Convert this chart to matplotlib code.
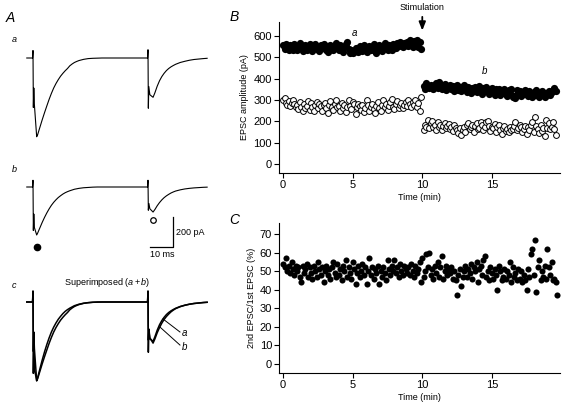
import matplotlib

matplotlib.use("Agg")

import matplotlib.pyplot as plt
import numpy as np

plt.rcParams["font.family"] = ["Liberation Sans", "DejaVu Sans"]
plt.rcParams["mathtext.fontset"] = "custom"
plt.rcParams["mathtext.it"] = "Liberation Sans:italic"
plt.rcParams["mathtext.rm"] = "Liberation Sans"

# --------------------------------------------------------------------------- #
# Data
# --------------------------------------------------------------------------- #

# Panel A sample traces: (time in ms after first stimulus, current in pA)
trace_a = [
    (-2.7, 0), (-0.2, 0), (0.0, 50), (0.15, -330), (0.35, -200), (0.6, -310),
    (1.6, -525), (2, -512), (3, -462), (4, -412), (5, -365), (6, -320),
    (7, -276), (8, -236), (9, -200), (10, -170), (11, -144), (12, -121),
    (13, -102), (14, -85), (15, -70), (16, -52), (17, -40), (18, -30),
    (19, -23), (20, -17), (22, -9), (24, -4), (26, -2), (28, -1), (30, 0),
    (49.8, 0), (50.0, 55), (50.15, -335), (50.35, -190), (50.8, -245),
    (52.2, -262), (53, -232), (54, -188), (55, -152), (56, -124), (57, -102),
    (58, -84), (59, -70), (60, -59), (61, -50), (62, -42), (63, -36),
    (64, -30), (65, -26), (66, -22), (68, -15), (70, -10), (72, -7),
    (74, -4), (75.7, -2),
]
trace_b = [
    (-2.7, 0), (-0.2, 0), (0.0, 45), (0.15, -290), (0.35, -180), (0.6, -270),
    (1.6, -320), (2, -308), (3, -272), (4, -236), (5, -203), (6, -173),
    (7, -146), (8, -122), (9, -102), (10, -85), (11, -70), (12, -58),
    (13, -47), (14, -38), (15, -31), (16, -25), (17, -20), (18, -15),
    (19, -12), (20, -9), (22, -5), (24, -3), (26, -1), (28, 0),
    (49.8, 0), (50.0, 45), (50.15, -155), (50.4, -110), (50.8, -145),
    (52.2, -167), (53, -150), (54, -125), (55, -104), (56, -86), (57, -71),
    (58, -59), (59, -49), (60, -40), (61, -33), (62, -27), (63, -23),
    (64, -19), (65, -16), (66, -13), (68, -9), (70, -6), (72, -4),
    (74, -2), (75.7, -1),
]

# Panel B: EPSC amplitudes (pA), one sweep every 6 s
sweep_min = 0.1
before_start, after_start = 0.0, 10.1
first_before = [
    555, 540, 560, 545, 532, 558, 547, 536, 562, 546,
    533, 554, 565, 541, 528, 550, 559, 535, 546, 563,
    545, 530, 551, 560, 537, 549, 529, 556, 543, 564,
    551, 536, 525, 546, 559, 540, 532, 551, 566, 545,
    534, 556, 544, 526, 548, 560, 572, 537, 522, 532,
    520, 529, 544, 535, 523, 552, 541, 528, 558, 536,
    526, 547, 554, 533, 543, 560, 530, 522, 548, 557,
    538, 528, 551, 565, 544, 532, 558, 548, 535, 562,
    552, 543, 565, 553, 570, 556, 547, 567, 558, 573,
    553, 580, 566, 549, 575, 560, 582, 548, 573, 540,
]
first_after = [
    365, 352, 378, 366, 355, 372, 360, 350, 369, 380,
    357, 385, 367, 351, 362, 376, 345, 361, 354, 370,
    350, 364, 340, 355, 368, 348, 360, 342, 356, 371,
    352, 338, 361, 347, 333, 358, 344, 362, 338, 351,
    366, 345, 330, 356, 340, 360, 347, 328, 343, 358,
    338, 325, 350, 336, 353, 322, 343, 334, 352, 330,
    320, 345, 332, 351, 312, 318, 310, 348, 330, 342,
    320, 336, 328, 347, 332, 318, 341, 326, 315, 338,
    324, 345, 330, 316, 328, 341, 322, 312, 333, 328,
    344, 325, 337, 348, 355, 343,
]
second_before = [
    300, 310, 285, 278, 295, 270, 288, 300, 283, 265,
    275, 258, 290, 268, 248, 280, 262, 272, 295, 255,
    285, 268, 250, 278, 292, 260, 283, 270, 248, 275,
    288, 262, 240, 278, 293, 268, 255, 282, 300, 265,
    272, 250, 287, 262, 278, 245, 268, 300, 272, 256,
    292, 280, 232, 265, 283, 270, 255, 275, 245, 262,
    298, 275, 250, 268, 283, 258, 240, 272, 290, 262,
    250, 278, 300, 265, 282, 255, 270, 292, 305, 268,
    258, 280, 295, 262, 275, 288, 260, 278, 290, 270,
    298, 283, 265, 290, 275, 300, 268, 285, 250, 312,
]
second_after = [
    160, 182, 175, 205, 168, 190, 200, 175, 185, 160,
    195, 172, 185, 160, 178, 192, 168, 180, 188, 165,
    175, 155, 182, 170, 160, 145, 168, 135, 158, 175,
    150, 185, 190, 165, 175, 185, 150, 178, 192, 162,
    170, 198, 185, 160, 172, 195, 203, 180, 155, 175,
    168, 188, 148, 172, 182, 160, 140, 168, 178, 155,
    165, 150, 172, 160, 165, 178, 195, 158, 168, 182,
    172, 150, 165, 180, 140, 172, 160, 185, 198, 150,
    222, 178, 165, 145, 185, 155, 170, 132, 205, 170,
    190, 162, 175, 195, 165, 135,
]

# Panel C: paired-pulse ratio (%), same sweeps
ratio_pct = [
    54, 52, 57, 50, 53, 49, 55, 51, 48, 53,
    50, 52, 47, 44, 53, 49, 51, 54, 47, 52,
    49, 46, 53, 50, 47, 55, 51, 48, 52, 44,
    50, 53, 48, 51, 46, 52, 55, 49, 47, 54,
    48, 51, 45, 53, 50, 56, 47, 52, 49, 46,
    55, 51, 43, 49, 53, 47, 50, 54, 48, 52,
    43, 50, 57, 48, 52, 46, 51, 49, 53, 43,
    50, 47, 52, 49, 45, 56, 51, 48, 53, 50,
    56, 49, 52, 47, 54, 50, 48, 53, 51, 49,
    52, 48, 54, 50, 47, 53, 49, 51, 55, 44,
    57, 47, 50, 59, 52, 60, 48, 51, 46, 53,
    49, 55, 47, 52, 58, 46, 50, 53, 48, 51,
    49, 52, 46, 50, 45, 37, 48, 51, 42, 47,
    50, 53, 47, 51, 49, 54, 46, 52, 50, 55,
    44, 51, 53, 48, 56, 58, 47, 50, 45, 52,
    49, 46, 51, 48, 40, 53, 50, 45, 47, 51,
    46, 50, 48, 55, 44, 52, 47, 49, 45, 51,
    46, 50, 44, 48, 45, 40, 51, 47, 59, 62,
    48, 67, 39, 52, 56, 45, 50, 47, 53, 46,
    62, 52, 48, 55, 45, 46, 44, 37,
]

stim_time = 10.0
amp_ticks = [0, 100, 200, 300, 400, 500, 600]
ratio_ticks = [0, 10, 20, 30, 40, 50, 60, 70]
time_ticks = [0, 5, 10, 15]

# --------------------------------------------------------------------------- #
# Layout
# --------------------------------------------------------------------------- #

W, H = 569, 411
fig = plt.figure(figsize=(W / 100, H / 100), dpi=100)


def fxy(x, y):
    """Pixel position (from top-left) to figure fraction."""
    return x / W, 1 - y / H


def style_axes(ax):
    for side in ("top", "right"):
        ax.spines[side].set_visible(False)
    for side in ("left", "bottom"):
        ax.spines[side].set_linewidth(0.8)
    ax.tick_params(direction="out", length=3.5, width=0.8, labelsize=8, pad=1.5)


# ---- Panel A: traces ------------------------------------------------------ #
PX_PER_MS, PX_PER_PA, STIM_PX = 2.3, 0.15, 33
ax_a = fig.add_axes([0, 0, 230 / W, 1])
ax_a.set_xlim(-STIM_PX / PX_PER_MS, (230 - STIM_PX) / PX_PER_MS)
ax_a.set_ylim(-H / PX_PER_PA, 0)
ax_a.axis("off")

base_a, base_b, base_c = -58 / PX_PER_PA, -187 / PX_PER_PA, -302 / PX_PER_PA
ta, ia = np.array(trace_a).T
tb, ib = np.array(trace_b).T
b_scale = ia.min() / ib.min()

ax_a.plot(ta, ia + base_a, color="black", lw=0.8)
ax_a.plot(tb, ib + base_b, color="black", lw=0.8)
ax_a.plot(ta, ia + base_c, color="black", lw=1.1)
ax_a.plot(tb, ib * b_scale + base_c, color="black", lw=1.1)

# peak markers for trace b
ax_a.plot(1.6, base_b - 400, "o", ms=4.5, color="black")
ax_a.plot(52.2, base_b - 220, "o", ms=4, mfc="white", mec="black", mew=0.9)

# scale bar: 10 ms / 200 pA
bar_x, bar_y = 60.9, -1647
ax_a.plot([bar_x - 10, bar_x, bar_x], [bar_y, bar_y, bar_y + 200], color="black", lw=0.9)
ax_a.text(bar_x + 1.3, bar_y + 100, "200 pA", fontsize=6.5, va="center")
ax_a.text(bar_x - 10, bar_y - 20, "10 ms", fontsize=6.5, va="top")

# a / b leader labels on superimposed traces
ax_a.plot([56.5, 63.9], [base_c - 113, base_c - 200], color="black", lw=0.7)
ax_a.plot([55.2, 63.9], [base_c - 167, base_c - 287], color="black", lw=0.7)
ax_a.text(64.6, base_c - 207, "a", fontsize=7, style="italic", va="center")
ax_a.text(64.6, base_c - 300, "b", fontsize=7, style="italic", va="center")

fig.text(*fxy(10, 18), "A", fontsize=10, style="italic", va="center", ha="center")
fig.text(*fxy(14, 40), "a", fontsize=6.5, style="italic", va="center", ha="center")
fig.text(*fxy(14, 170), "b", fontsize=6.5, style="italic", va="center", ha="center")
fig.text(*fxy(14, 285), "c", fontsize=6.5, style="italic", va="center", ha="center")
fig.text(*fxy(107, 282), r"Superimposed ($a+b$)", fontsize=6.5, va="center", ha="center")

# ---- Panel B: amplitudes -------------------------------------------------- #
ax_b = fig.add_axes([279 / W, 1 - 173 / H, 281 / W, 151 / H])
style_axes(ax_b)
t_before = before_start + sweep_min * np.arange(len(first_before))
t_after = after_start + sweep_min * np.arange(len(first_after))
ax_b.plot(t_before, first_before, "o", ms=5.2, color="black", mew=0)
ax_b.plot(t_after, first_after, "o", ms=5.2, color="black", mew=0)
ax_b.plot(t_before, second_before, "o", ms=4.2, mfc="white", mec="black", mew=0.7)
ax_b.plot(t_after, second_after, "o", ms=4.2, mfc="white", mec="black", mew=0.7)
ax_b.set_xlim(-0.3, 19.9)
ax_b.set_ylim(-42, 665)
ax_b.set_xticks(time_ticks)
ax_b.set_yticks(amp_ticks)
ax_b.set_xlabel("Time (min)", fontsize=6.5, labelpad=2)
ax_b.set_ylabel("EPSC amplitude (pA)", fontsize=6.5, labelpad=3)
ax_b.text(5.1, 614, "a", fontsize=7, style="italic", ha="center", va="center")
ax_b.text(14.5, 436, "b", fontsize=7, style="italic", ha="center", va="center")
ax_b.annotate(
    "", xy=(stim_time, 612), xytext=(stim_time, 702),
    arrowprops=dict(arrowstyle="-|>,head_length=0.5,head_width=0.2", color="black", lw=1.3),
    annotation_clip=False,
)
ax_b.text(stim_time, 731, "Stimulation", fontsize=6.5, ha="center", va="center", clip_on=False)
fig.text(*fxy(234, 17), "B", fontsize=10, style="italic", va="center", ha="center")

# ---- Panel C: paired-pulse ratio ------------------------------------------ #
ax_c = fig.add_axes([279 / W, 1 - 373 / H, 281 / W, 150 / H])
style_axes(ax_c)
t_ratio = before_start + sweep_min * np.arange(len(ratio_pct))
ax_c.plot(t_ratio, ratio_pct, "o", ms=4.4, color="black", mew=0)
ax_c.set_xlim(-0.3, 19.9)
ax_c.set_ylim(-4.8, 75.9)
ax_c.set_xticks(time_ticks)
ax_c.set_yticks(ratio_ticks)
ax_c.set_xlabel("Time (min)", fontsize=6.5, labelpad=2)
ax_c.set_ylabel("2nd EPSC/1st EPSC (%)", fontsize=6.5, labelpad=3)
fig.text(*fxy(234, 220), "C", fontsize=10, style="italic", va="center", ha="center")

fig.savefig("out.png", dpi=100)
